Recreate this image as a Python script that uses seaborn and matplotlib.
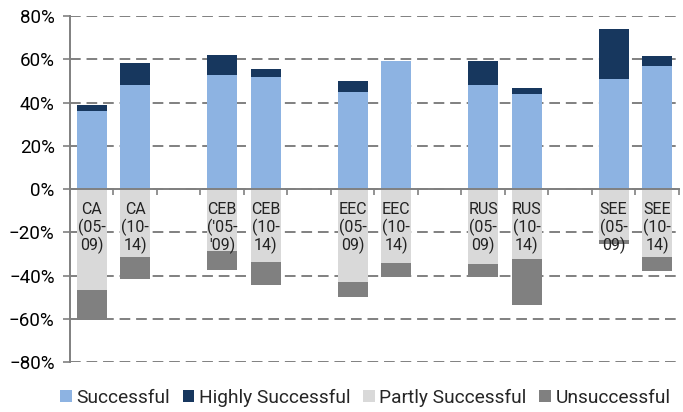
import matplotlib
matplotlib.use("Agg")
import matplotlib.pyplot as plt
from matplotlib.patches import Patch
from matplotlib.ticker import FixedLocator, PercentFormatter
import seaborn as sns
import pandas as pd
import numpy as np

# ---- data (percent) ----
categories = ["CA\n(05-\n09)", "CA\n(10-\n14)", "CEB\n('05-\n'09)", "CEB\n(10-\n14)",
              "EEC\n(05-\n09)", "EEC\n(10-\n14)", "RUS\n(05-\n09)", "RUS\n(10-\n14)",
              "SEE\n(05-\n09)", "SEE\n(10-\n14)"]
successful = [36, 48.3, 52.7, 51.8, 44.9, 59.3, 48.3, 43.8, 51, 57]
highly_successful = [3.1, 10.2, 9.4, 3.5, 5.1, 0, 10.9, 2.8, 23.2, 4.6]
partly_successful = [46.5, 31.3, 28.5, 33.6, 42.8, 34.3, 34.8, 32.2, 23.7, 31.3]
unsuccessful = [14.2, 10.1, 9.1, 10.9, 7.1, 6.3, 6.0, 21.2, 1.7, 6.7]
legend_labels = ["Successful", "Highly Successful", "Partly Successful", "Unsuccessful"]
y_ticks = [-80, -60, -40, -20, 0, 20, 40, 60, 80]

colors = {"Successful": "#8DB3E2", "Highly Successful": "#17375E",
          "Partly Successful": "#D9D9D9", "Unsuccessful": "#808080"}

# category order including blank spacer slots between groups
order = []
for i, c in enumerate(categories):
    order.append(c)
    if i % 2 == 1 and i < len(categories) - 1:
        order.append(" " * (i // 2 + 1))

df = pd.DataFrame({
    "cat": categories,
    "pos_total": np.array(successful) + np.array(highly_successful),
    "pos_base": successful,
    "neg_total": -(np.array(partly_successful) + np.array(unsuccessful)),
    "neg_base": [-v for v in partly_successful],
})

sns.set_theme(style="white")
plt.rcParams["font.family"] = ["Roboto", "DejaVu Sans"]
fig = plt.figure(figsize=(6.83, 4.12), dpi=100)
ax = fig.add_axes([0.1025, 0.121, 0.8915, 0.84])

w = 0.69
sns.barplot(data=df, x="cat", y="pos_total", order=order, color=colors["Highly Successful"],
            saturation=1, width=w, ax=ax, zorder=3, edgecolor="none")
sns.barplot(data=df, x="cat", y="pos_base", order=order, color=colors["Successful"],
            saturation=1, width=w, ax=ax, zorder=3, edgecolor="none")
sns.barplot(data=df, x="cat", y="neg_total", order=order, color=colors["Unsuccessful"],
            saturation=1, width=w, ax=ax, zorder=3, edgecolor="none")
sns.barplot(data=df, x="cat", y="neg_base", order=order, color=colors["Partly Successful"],
            saturation=1, width=w, ax=ax, zorder=3, edgecolor="none")

ax.set_ylim(-80, 80)
ax.set_xlim(-0.5, len(order) - 0.5)
ax.set_xlabel("")
ax.set_ylabel("")

# gridlines
ax.yaxis.set_major_locator(FixedLocator(y_ticks))
ax.yaxis.set_major_formatter(PercentFormatter(decimals=0))
ax.grid(axis="y", color="#808080", linestyle=(0, (5.5, 3)), linewidth=1.4, zorder=0)
ax.grid(axis="x", visible=False)
ax.tick_params(axis="y", labelsize=13.5, length=5, width=1.2, color="#808080", pad=6,
               labelcolor="#000000", left=True)

# x axis at zero with boundary ticks
ax.spines["bottom"].set_position(("data", 0))
ax.spines["bottom"].set_color("#808080")
ax.spines["bottom"].set_linewidth(1.4)
ax.spines["bottom"].set_zorder(4)
ax.spines["left"].set_color("#808080")
ax.spines["left"].set_linewidth(1.4)
for s in ["top", "right"]:
    ax.spines[s].set_visible(False)
ax.set_xticks([])
ax.set_xticks(np.arange(-0.5, len(order), 1.0), minor=True)
ax.tick_params(axis="x", which="minor", direction="out", length=4, width=1.2,
               color="#808080", bottom=True)

# category labels inside the negative bars
for i, lab in enumerate(order):
    if lab.strip():
        ax.text(i, -6, lab, ha="center", va="top", fontsize=11.5, color="#222222",
                linespacing=1.1, zorder=5)

handles = [Patch(facecolor=colors[k], edgecolor="none") for k in legend_labels]
fig.legend(handles, legend_labels, loc="center", bbox_to_anchor=(0.535, 0.034), ncol=4,
           frameon=False, handlelength=0.6, handleheight=0.6, handletextpad=0.25,
           columnspacing=0.65, prop={"size": 13.8})

fig.savefig("out.png", dpi=100)
